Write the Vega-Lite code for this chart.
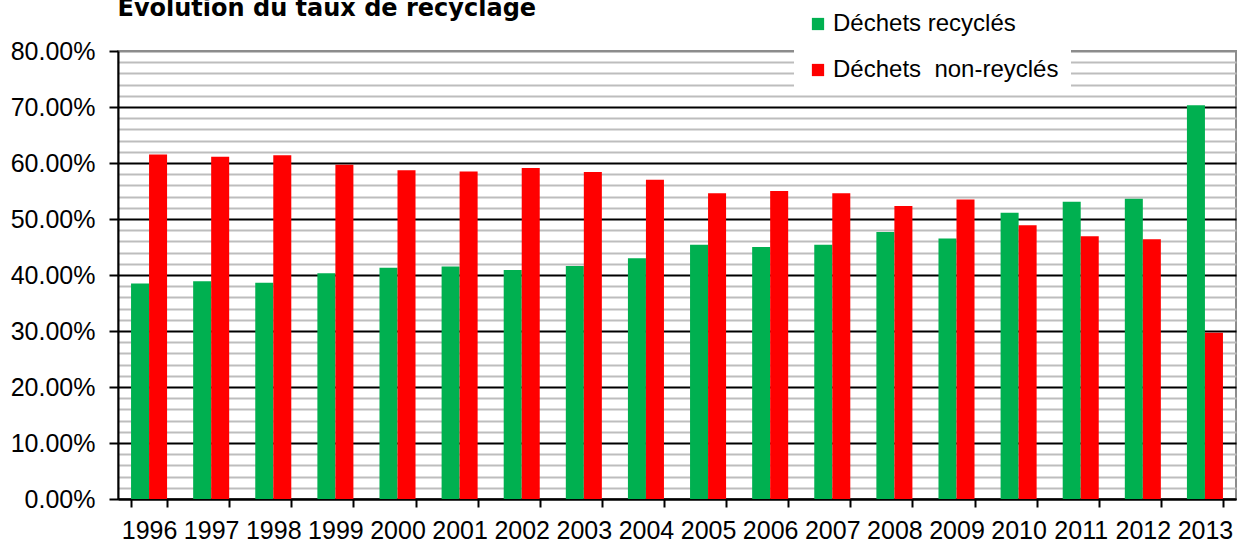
{
  "$schema": "https://vega.github.io/schema/vega-lite/v6.json",
  "width": 1118,
  "height": 448,
  "autosize": {"type": "none"},
  "padding": {"left": 118, "top": 51, "right": 2, "bottom": 41},
  "background": "white",
  "config": {"view": {"stroke": "#8c8c8c", "strokeWidth": 2}, "font": "Liberation Sans"},
  "data": {"values": [
    {"annee": "1996", "serie": "Déchets recyclés", "taux": 0.385},
    {"annee": "1996", "serie": "Déchets\u00a0 non-reyclés", "taux": 0.615},
    {"annee": "1997", "serie": "Déchets recyclés", "taux": 0.389},
    {"annee": "1997", "serie": "Déchets\u00a0 non-reyclés", "taux": 0.611},
    {"annee": "1998", "serie": "Déchets recyclés", "taux": 0.386},
    {"annee": "1998", "serie": "Déchets\u00a0 non-reyclés", "taux": 0.614},
    {"annee": "1999", "serie": "Déchets recyclés", "taux": 0.403},
    {"annee": "1999", "serie": "Déchets\u00a0 non-reyclés", "taux": 0.597},
    {"annee": "2000", "serie": "Déchets recyclés", "taux": 0.413},
    {"annee": "2000", "serie": "Déchets\u00a0 non-reyclés", "taux": 0.587},
    {"annee": "2001", "serie": "Déchets recyclés", "taux": 0.415},
    {"annee": "2001", "serie": "Déchets\u00a0 non-reyclés", "taux": 0.585},
    {"annee": "2002", "serie": "Déchets recyclés", "taux": 0.409},
    {"annee": "2002", "serie": "Déchets\u00a0 non-reyclés", "taux": 0.591},
    {"annee": "2003", "serie": "Déchets recyclés", "taux": 0.416},
    {"annee": "2003", "serie": "Déchets\u00a0 non-reyclés", "taux": 0.584},
    {"annee": "2004", "serie": "Déchets recyclés", "taux": 0.43},
    {"annee": "2004", "serie": "Déchets\u00a0 non-reyclés", "taux": 0.57},
    {"annee": "2005", "serie": "Déchets recyclés", "taux": 0.454},
    {"annee": "2005", "serie": "Déchets\u00a0 non-reyclés", "taux": 0.546},
    {"annee": "2006", "serie": "Déchets recyclés", "taux": 0.45},
    {"annee": "2006", "serie": "Déchets\u00a0 non-reyclés", "taux": 0.55},
    {"annee": "2007", "serie": "Déchets recyclés", "taux": 0.454},
    {"annee": "2007", "serie": "Déchets\u00a0 non-reyclés", "taux": 0.546},
    {"annee": "2008", "serie": "Déchets recyclés", "taux": 0.477},
    {"annee": "2008", "serie": "Déchets\u00a0 non-reyclés", "taux": 0.523},
    {"annee": "2009", "serie": "Déchets recyclés", "taux": 0.465},
    {"annee": "2009", "serie": "Déchets\u00a0 non-reyclés", "taux": 0.535},
    {"annee": "2010", "serie": "Déchets recyclés", "taux": 0.511},
    {"annee": "2010", "serie": "Déchets\u00a0 non-reyclés", "taux": 0.489},
    {"annee": "2011", "serie": "Déchets recyclés", "taux": 0.531},
    {"annee": "2011", "serie": "Déchets\u00a0 non-reyclés", "taux": 0.469},
    {"annee": "2012", "serie": "Déchets recyclés", "taux": 0.536},
    {"annee": "2012", "serie": "Déchets\u00a0 non-reyclés", "taux": 0.464},
    {"annee": "2013", "serie": "Déchets recyclés", "taux": 0.703},
    {"annee": "2013", "serie": "Déchets\u00a0 non-reyclés", "taux": 0.297}
  ]},
  "mark": {"type": "bar"},
  "encoding": {
    "x": {
      "field": "annee", "type": "nominal",
      "scale": {"paddingInner": 0.42, "paddingOuter": 0.21},
      "axis": {"title": null, "labelAngle": 0, "labelFontSize": 25, "labelFont": "Liberation Sans", "labelColor": "black", "labelPadding": 11, "tickBand": "extent", "tickColor": "black", "tickWidth": 2, "tickSize": 8, "domainColor": "black", "domainWidth": 2, "grid": false}
    },
    "xOffset": {"field": "serie", "type": "nominal", "sort": ["Déchets recyclés", "Déchets\u00a0 non-reyclés"]},
    "y": {
      "field": "taux", "type": "quantitative",
      "scale": {"domain": [0, 0.8], "nice": false},
      "axis": {
        "title": "Évolution du taux de recyclage",
        "titleAngle": 0,
        "titleX": -1,
        "titleY": -36,
        "titleAlign": "left",
        "titleBaseline": "alphabetic",
        "titleFont": "DejaVu Sans",
        "titleFontSize": 24,
        "titleFontWeight": "bold",
        "titleColor": "black",
        "values": [0, 0.02, 0.04, 0.06, 0.08, 0.1, 0.12, 0.14, 0.16, 0.18, 0.2, 0.22, 0.24, 0.26, 0.28, 0.3, 0.32, 0.34, 0.36, 0.38, 0.4, 0.42, 0.44, 0.46, 0.48, 0.5, 0.52, 0.54, 0.56, 0.58, 0.6, 0.62, 0.64, 0.66, 0.68, 0.7, 0.72, 0.74, 0.76, 0.78, 0.8],
        "format": ".2%",
        "grid": true,
        "gridColor": {"condition": [{"test": "datum.value >= 0.79", "value": "#8c8c8c"}, {"test": "round(datum.value*100) % 10 === 0", "value": "#000000"}], "value": "#bdbdbd"},
        "gridWidth": 2,
        "tickColor": "black",
        "tickOpacity": {"condition": {"test": "round(datum.value*100) % 10 === 0", "value": 1}, "value": 0},
        "tickWidth": 2,
        "tickSize": 9,
        "labelExpr": "round(datum.value*100) % 10 === 0 ? datum.label : ''",
        "labelOverlap": false,
        "labelBound": false,
        "labelFontSize": 25,
        "labelFont": "Liberation Sans",
        "labelColor": "black",
        "labelPadding": 14,
        "domainColor": "black",
        "domainWidth": 2
      }
    },
    "color": {
      "field": "serie", "type": "nominal",
      "scale": {"domain": ["Déchets recyclés", "Déchets\u00a0 non-reyclés"], "range": ["#00B050", "#FF0000"]},
      "legend": {
        "title": null, "orient": "none", "legendX": 676, "legendY": -51, "direction": "vertical",
        "fillColor": "white", "padding": 12, "symbolType": "square", "symbolSize": 150, "symbolStrokeWidth": 0,
        "labelFontSize": 24, "labelFont": "Liberation Sans", "labelColor": "black", "labelOffset": 3,
        "rowPadding": 22, "labelLimit": 400,
        "labelExpr": "datum.label + '\u00a0\u00a0\u00a0\u00a0\u00a0'"
      }
    }
  }
}
